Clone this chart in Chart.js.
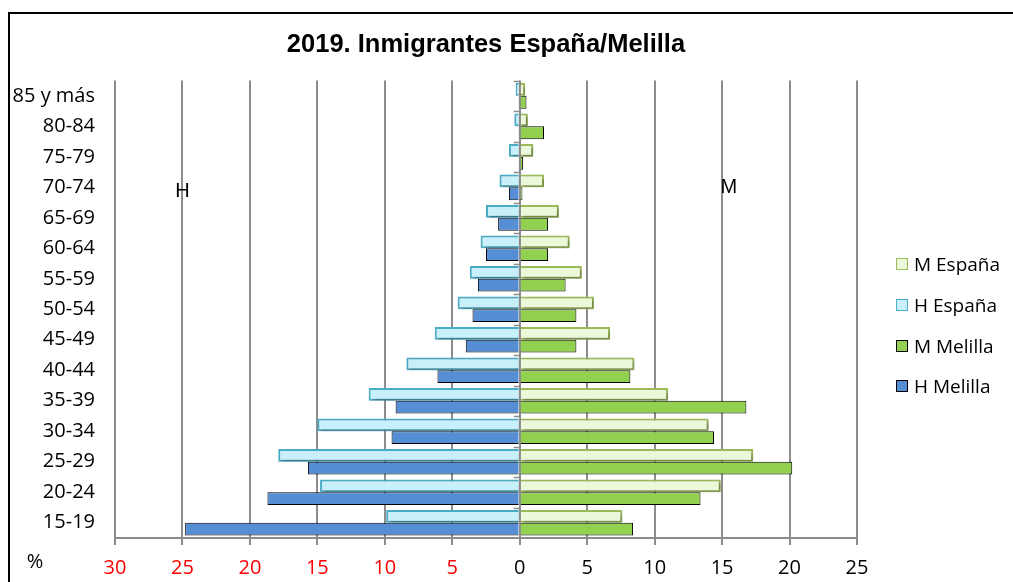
<!DOCTYPE html>
<html><head><meta charset="utf-8">
<script src="https://cdn.jsdelivr.net/npm/chart.js@4"></script>
<style>
html,body{margin:0;padding:0;background:#fff;}
#wrap{position:relative;width:1013px;height:582px;overflow:hidden;}
#frame{position:absolute;left:8px;top:12px;width:1100px;height:700px;border-left:2px solid #000;border-top:2px solid #000;}
canvas{position:absolute;left:0;top:0;}
#legend{position:absolute;left:896px;top:244px;font-family:'Open Sans';font-size:19px;color:#000;}
.item{display:flex;align-items:center;height:40.7px;white-space:nowrap;}
.box{width:10px;height:10px;margin-right:6px;border:1.5px solid;box-sizing:content-box;}
</style></head>
<body>
<div id="wrap">
<div id="frame"></div>
<canvas id="c" width="1013" height="582"></canvas>
<div id="legend"></div>
</div>
<script>
const categories = ['85 y más','80-84','75-79','70-74','65-69','60-64','55-59','50-54','45-49','40-44','35-39','30-34','25-29','20-24','15-19'];
const hEspana  = [0.3, 0.4, 0.8, 1.5, 2.5, 2.9, 3.7, 4.6, 6.3, 8.4, 11.2, 15.0, 17.9, 14.8, 9.9];
const mEspana  = [0.4, 0.6, 1.0, 1.8, 2.9, 3.7, 4.6, 5.5, 6.7, 8.5, 11.0, 14.0, 17.3, 14.9, 7.6];
const hMelilla = [0.1, 0.1, 0.05, 0.8, 1.6, 2.5, 3.1, 3.5, 4.0, 6.1, 9.2, 9.5, 15.7, 18.7, 24.8];
const mMelilla = [0.5, 1.8, 0.25, 0.2, 2.1, 2.1, 3.4, 4.2, 4.2, 8.2, 16.8, 14.4, 20.2, 13.4, 8.4];
const xTicksMin = -30, xTicksMax = 25, xStep = 5;
const legendOrder = ['M España','H España','M Melilla','H Melilla'];

const GRID = '#8c8c8c';

const datasets = [
  {label:'H España', stack:'E', data:hEspana.map(v=>-v), backgroundColor:'#c8f0fb', borderColor:'#4bacc6', borderWidth:2, shadow:true},
  {label:'M España', stack:'E', data:mEspana, backgroundColor:'#ecf8da', borderColor:'#9bbb59', borderWidth:2, shadow:true},
  {label:'H Melilla', stack:'M', data:hMelilla.map(v=>-v), backgroundColor:'#558ed5', borderColor:'#000000', borderWidth:1},
  {label:'M Melilla', stack:'M', data:mMelilla, backgroundColor:'#92d050', borderColor:'#000000', borderWidth:1}
];
datasets.forEach(d=>{d.categoryPercentage=0.84; d.barPercentage=1.0; d.borderSkipped='start';});

const extras = {
  id:'extras',
  beforeDatasetDraw(chart, args){
    const ds = chart.data.datasets[args.index];
    if (ds.shadow){
      const ctx = chart.ctx; ctx.save();
      ctx.shadowColor='rgba(0,0,0,0.35)'; ctx.shadowBlur=3; ctx.shadowOffsetX=2; ctx.shadowOffsetY=2;
    }
  },
  afterDatasetDraw(chart, args){
    const ds = chart.data.datasets[args.index];
    if (ds.shadow) chart.ctx.restore();
  },
  afterDatasetsDraw(chart){
    const {ctx, scales:{x,y}} = chart;
    const x0 = x.getPixelForValue(0);
    ctx.save();
    ctx.strokeStyle = GRID; ctx.lineWidth = 1.5;
    for (let i=0;i<categories.length;i++){
      const yy = Math.round(y.getPixelForValue(i-0.5))+0.5;
      ctx.beginPath(); ctx.moveTo(x0-6, yy); ctx.lineTo(x0, yy); ctx.stroke();
    }
    ctx.fillStyle='#000';
    ctx.font = '20px "Liberation Sans"';
    ctx.textAlign='center'; ctx.textBaseline='middle';
    ctx.fillText('H', x.getPixelForValue(-25), y.getPixelForValue(3)+4);
    ctx.fillText('M', x.getPixelForValue(15.5), y.getPixelForValue(3));
    ctx.font = '20px "Open Sans"';
    ctx.fillText('%', 35, 562);
    ctx.restore();
  }
};

const chart = new Chart(document.getElementById('c'), {
  type:'bar',
  data:{labels:categories, datasets},
  options:{
    indexAxis:'y',
    responsive:false,
    animation:false,
    layout:{padding:{left:8, right:156, top:0, bottom:0}},
    plugins:{
      legend:{display:false},
      tooltip:{enabled:false},
      title:{display:true, fullSize:false, text:'2019. Inmigrantes España/Melilla', color:'#000',
        font:{family:'"Liberation Sans"', size:25.5, weight:'bold'}, padding:{top:30,bottom:20}}
    },
    scales:{
      x:{
        stacked:true, min:xTicksMin, max:xTicksMax,
        ticks:{stepSize:xStep, padding:11, font:{family:'"Open Sans"', size:20},
          color:(c)=> c.tick && c.tick.value<0 ? '#ff0000' : '#000000',
          callback:(v)=>Math.abs(v)},
        grid:{color:GRID, lineWidth:2, drawTicks:true, tickLength:7, tickColor:GRID},
        border:{display:true, color:GRID, width:2},
        afterFit:(s)=>{s.height=44;}
      },
      y:{
        grid:{display:false, drawTicks:false},
        border:{display:false},
        ticks:{padding:20, font:{family:'"Open Sans"', size:20}, color:'#000', autoSkip:false},
        afterFit:(s)=>{s.width=107;}
      }
    }
  },
  plugins:[extras]
});

const leg = document.getElementById('legend');
legendOrder.forEach(name=>{
  const d = chart.data.datasets.find(ds=>ds.label===name);
  const it = document.createElement('div'); it.className='item';
  const b = document.createElement('span'); b.className='box';
  b.style.background=d.backgroundColor; b.style.borderColor = d.borderColor;
  const t = document.createElement('span'); t.textContent=name;
  it.appendChild(b); it.appendChild(t); leg.appendChild(it);
});
</script>
</body></html>
